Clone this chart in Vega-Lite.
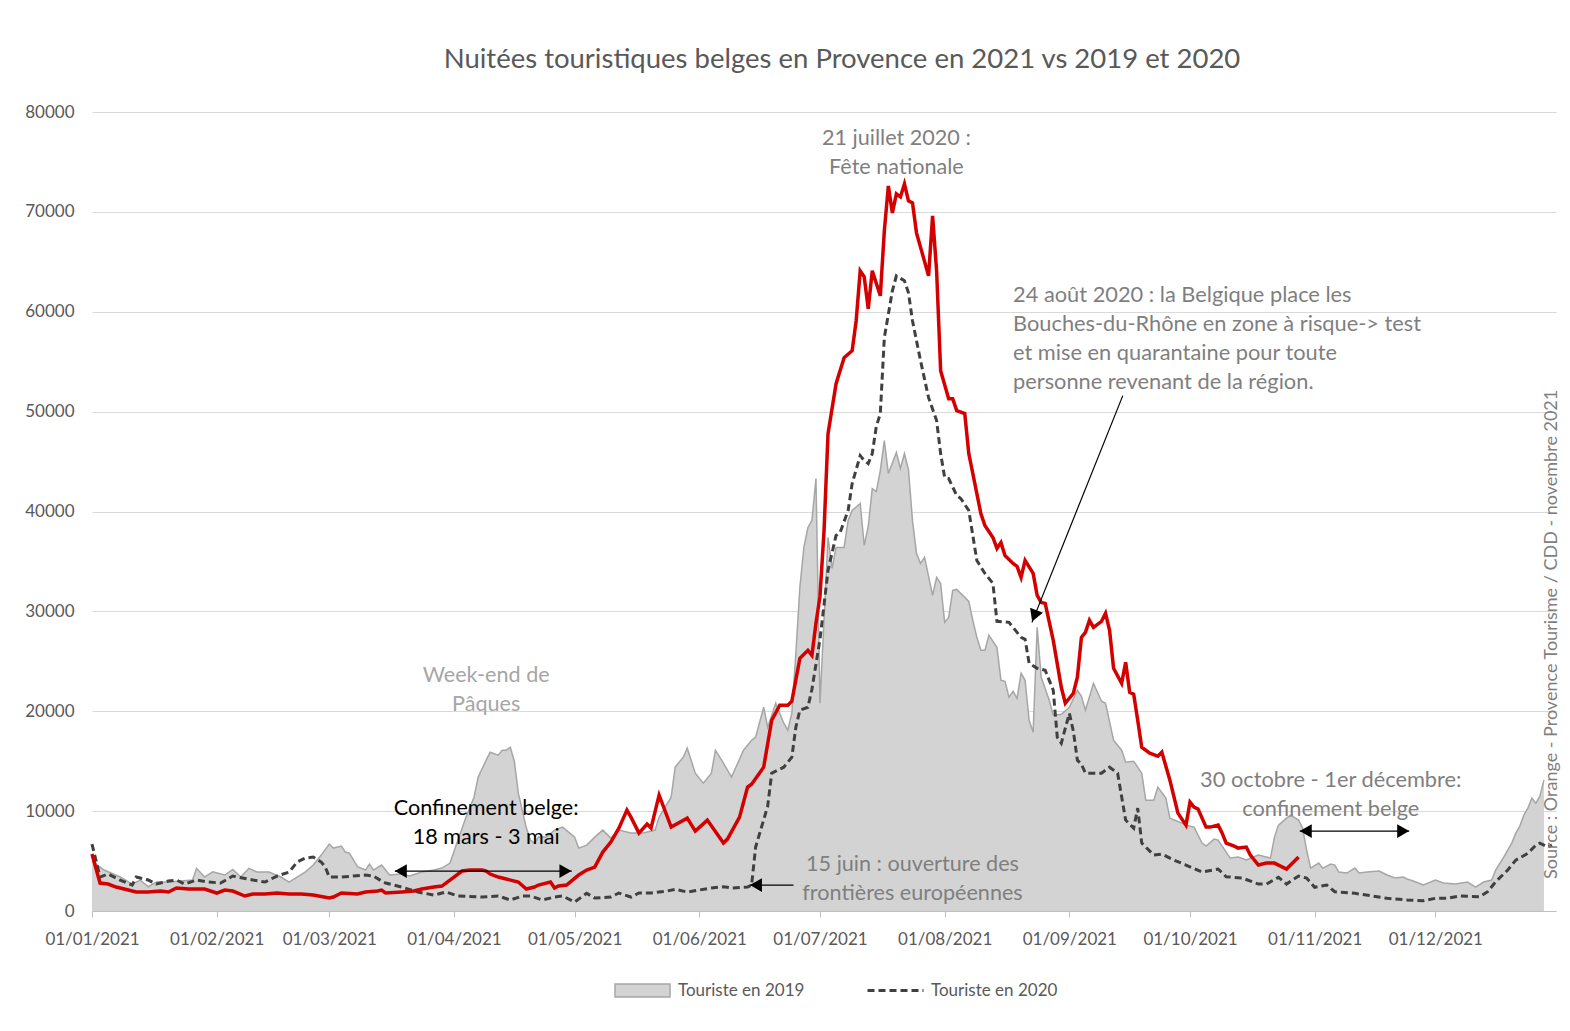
{
  "$schema": "https://vega.github.io/schema/vega-lite/v6.json",
  "width": 1464,
  "height": 799,
  "autosize": {"type": "none"},
  "padding": {"left": 92, "top": 112, "right": 14, "bottom": 120},
  "background": "white",
  "config": {"font": "Lato", "view": {"stroke": null}},
  "title": {"text": "Nuitées touristiques belges en Provence en 2021 vs 2019 et 2020", "font": "Lato", "fontSize": 27.5, "fontWeight": "normal", "color": "#595959", "anchor": "middle", "frame": "group", "dx": 18, "offset": 30},
  "datasets": {
    "t2019": [
      {"date": "2021-01-01", "v": 5000}, {"date": "2021-01-04", "v": 4100}, {"date": "2021-01-08", "v": 3400}, {"date": "2021-01-11", "v": 2700}, {"date": "2021-01-13", "v": 3100}, {"date": "2021-01-15", "v": 2430}, {"date": "2021-01-17", "v": 2900}, {"date": "2021-01-20", "v": 2900}, {"date": "2021-01-23", "v": 3000}, {"date": "2021-01-26", "v": 3100}, {"date": "2021-01-27", "v": 4270}, {"date": "2021-01-29", "v": 3400}, {"date": "2021-01-31", "v": 3930},
      {"date": "2021-02-03", "v": 3600}, {"date": "2021-02-05", "v": 4170}, {"date": "2021-02-07", "v": 3400}, {"date": "2021-02-09", "v": 4270}, {"date": "2021-02-11", "v": 3900}, {"date": "2021-02-14", "v": 3900}, {"date": "2021-02-17", "v": 3400}, {"date": "2021-02-19", "v": 2900}, {"date": "2021-02-21", "v": 3400}, {"date": "2021-02-23", "v": 3900}, {"date": "2021-02-25", "v": 4600}, {"date": "2021-02-27", "v": 5600},
      {"date": "2021-03-01", "v": 6700}, {"date": "2021-03-02", "v": 6300}, {"date": "2021-03-04", "v": 6500}, {"date": "2021-03-05", "v": 5900}, {"date": "2021-03-06", "v": 5800}, {"date": "2021-03-08", "v": 4430}, {"date": "2021-03-10", "v": 4100}, {"date": "2021-03-11", "v": 4700}, {"date": "2021-03-12", "v": 4100}, {"date": "2021-03-14", "v": 4600}, {"date": "2021-03-16", "v": 3600}, {"date": "2021-03-19", "v": 3700}, {"date": "2021-03-21", "v": 3500}, {"date": "2021-03-24", "v": 3900}, {"date": "2021-03-27", "v": 4100}, {"date": "2021-03-29", "v": 4300}, {"date": "2021-03-31", "v": 4800},
      {"date": "2021-04-02", "v": 7100}, {"date": "2021-04-04", "v": 9400}, {"date": "2021-04-06", "v": 11400}, {"date": "2021-04-07", "v": 13400}, {"date": "2021-04-09", "v": 15100}, {"date": "2021-04-10", "v": 15900}, {"date": "2021-04-12", "v": 15600}, {"date": "2021-04-13", "v": 16100}, {"date": "2021-04-14", "v": 16100}, {"date": "2021-04-15", "v": 16400}, {"date": "2021-04-16", "v": 15000}, {"date": "2021-04-17", "v": 11800}, {"date": "2021-04-19", "v": 8300}, {"date": "2021-04-20", "v": 7100}, {"date": "2021-04-21", "v": 6800}, {"date": "2021-04-22", "v": 7400}, {"date": "2021-04-24", "v": 7400}, {"date": "2021-04-26", "v": 8100}, {"date": "2021-04-28", "v": 8400},
      {"date": "2021-05-01", "v": 7400}, {"date": "2021-05-02", "v": 6300}, {"date": "2021-05-04", "v": 6600}, {"date": "2021-05-06", "v": 7400}, {"date": "2021-05-08", "v": 8100}, {"date": "2021-05-10", "v": 7300}, {"date": "2021-05-12", "v": 8100}, {"date": "2021-05-15", "v": 7800}, {"date": "2021-05-18", "v": 7800}, {"date": "2021-05-21", "v": 8100}, {"date": "2021-05-22", "v": 9400}, {"date": "2021-05-25", "v": 11400}, {"date": "2021-05-26", "v": 14400}, {"date": "2021-05-28", "v": 15400}, {"date": "2021-05-29", "v": 16300}, {"date": "2021-05-31", "v": 13800},
      {"date": "2021-06-02", "v": 12800}, {"date": "2021-06-04", "v": 13800}, {"date": "2021-06-05", "v": 16100}, {"date": "2021-06-07", "v": 14800}, {"date": "2021-06-09", "v": 13400}, {"date": "2021-06-12", "v": 16100}, {"date": "2021-06-14", "v": 17100}, {"date": "2021-06-15", "v": 17400}, {"date": "2021-06-17", "v": 20400}, {"date": "2021-06-18", "v": 18400}, {"date": "2021-06-20", "v": 20800}, {"date": "2021-06-22", "v": 18800}, {"date": "2021-06-23", "v": 18100}, {"date": "2021-06-24", "v": 19800}, {"date": "2021-06-25", "v": 25800}, {"date": "2021-06-26", "v": 32400}, {"date": "2021-06-27", "v": 36400}, {"date": "2021-06-28", "v": 38400}, {"date": "2021-06-29", "v": 39100}, {"date": "2021-06-30", "v": 43300},
      {"date": "2021-07-01", "v": 20800}, {"date": "2021-07-03", "v": 37400}, {"date": "2021-07-04", "v": 34300}, {"date": "2021-07-05", "v": 36400}, {"date": "2021-07-07", "v": 36400}, {"date": "2021-07-08", "v": 39100}, {"date": "2021-07-09", "v": 40100}, {"date": "2021-07-11", "v": 40800}, {"date": "2021-07-12", "v": 36600}, {"date": "2021-07-13", "v": 38500}, {"date": "2021-07-14", "v": 42300}, {"date": "2021-07-15", "v": 42000}, {"date": "2021-07-16", "v": 44100}, {"date": "2021-07-17", "v": 47100}, {"date": "2021-07-18", "v": 43800}, {"date": "2021-07-20", "v": 45900}, {"date": "2021-07-21", "v": 44300}, {"date": "2021-07-22", "v": 45800}, {"date": "2021-07-23", "v": 44200}, {"date": "2021-07-24", "v": 39100}, {"date": "2021-07-25", "v": 35800}, {"date": "2021-07-26", "v": 34800}, {"date": "2021-07-27", "v": 35400}, {"date": "2021-07-29", "v": 31600}, {"date": "2021-07-30", "v": 33400}, {"date": "2021-07-31", "v": 32800},
      {"date": "2021-08-01", "v": 28900}, {"date": "2021-08-02", "v": 29400}, {"date": "2021-08-03", "v": 32100}, {"date": "2021-08-04", "v": 32200}, {"date": "2021-08-07", "v": 31000}, {"date": "2021-08-08", "v": 29100}, {"date": "2021-08-09", "v": 27400}, {"date": "2021-08-10", "v": 26100}, {"date": "2021-08-11", "v": 26100}, {"date": "2021-08-12", "v": 27600}, {"date": "2021-08-14", "v": 26400}, {"date": "2021-08-15", "v": 23100}, {"date": "2021-08-16", "v": 23000}, {"date": "2021-08-17", "v": 21400}, {"date": "2021-08-18", "v": 22000}, {"date": "2021-08-19", "v": 21300}, {"date": "2021-08-20", "v": 23800}, {"date": "2021-08-21", "v": 23100}, {"date": "2021-08-22", "v": 19100}, {"date": "2021-08-23", "v": 17900}, {"date": "2021-08-24", "v": 28400}, {"date": "2021-08-25", "v": 23400}, {"date": "2021-08-27", "v": 21100}, {"date": "2021-08-28", "v": 19600}, {"date": "2021-08-30", "v": 19700},
      {"date": "2021-09-01", "v": 20400}, {"date": "2021-09-03", "v": 22100}, {"date": "2021-09-04", "v": 21500}, {"date": "2021-09-05", "v": 20100}, {"date": "2021-09-07", "v": 22800}, {"date": "2021-09-09", "v": 21000}, {"date": "2021-09-10", "v": 20800}, {"date": "2021-09-12", "v": 17100}, {"date": "2021-09-14", "v": 16100}, {"date": "2021-09-15", "v": 14900}, {"date": "2021-09-17", "v": 15000}, {"date": "2021-09-19", "v": 13800}, {"date": "2021-09-20", "v": 11100}, {"date": "2021-09-22", "v": 11100}, {"date": "2021-09-23", "v": 12400}, {"date": "2021-09-25", "v": 11300}, {"date": "2021-09-26", "v": 9300}, {"date": "2021-09-29", "v": 8800}, {"date": "2021-09-30", "v": 8600},
      {"date": "2021-10-02", "v": 8400}, {"date": "2021-10-04", "v": 6800}, {"date": "2021-10-05", "v": 6500}, {"date": "2021-10-07", "v": 7200}, {"date": "2021-10-08", "v": 7100}, {"date": "2021-10-11", "v": 5300}, {"date": "2021-10-13", "v": 5400}, {"date": "2021-10-15", "v": 5100}, {"date": "2021-10-18", "v": 5600}, {"date": "2021-10-21", "v": 5300}, {"date": "2021-10-22", "v": 7400}, {"date": "2021-10-23", "v": 8600}, {"date": "2021-10-25", "v": 9300}, {"date": "2021-10-26", "v": 9600}, {"date": "2021-10-28", "v": 9100}, {"date": "2021-10-29", "v": 8300}, {"date": "2021-10-30", "v": 6100}, {"date": "2021-10-31", "v": 4300},
      {"date": "2021-11-02", "v": 4800}, {"date": "2021-11-03", "v": 4300}, {"date": "2021-11-05", "v": 4700}, {"date": "2021-11-06", "v": 4600}, {"date": "2021-11-07", "v": 3900}, {"date": "2021-11-09", "v": 3800}, {"date": "2021-11-11", "v": 4300}, {"date": "2021-11-12", "v": 3800}, {"date": "2021-11-14", "v": 3900}, {"date": "2021-11-17", "v": 4000}, {"date": "2021-11-19", "v": 3600}, {"date": "2021-11-21", "v": 3300}, {"date": "2021-11-23", "v": 3400}, {"date": "2021-11-24", "v": 3200}, {"date": "2021-11-26", "v": 2930}, {"date": "2021-11-28", "v": 2600},
      {"date": "2021-12-01", "v": 3100}, {"date": "2021-12-03", "v": 2800}, {"date": "2021-12-06", "v": 2700}, {"date": "2021-12-09", "v": 2900}, {"date": "2021-12-11", "v": 2400}, {"date": "2021-12-13", "v": 2900}, {"date": "2021-12-15", "v": 3100}, {"date": "2021-12-16", "v": 4100}, {"date": "2021-12-18", "v": 5400}, {"date": "2021-12-20", "v": 6800}, {"date": "2021-12-21", "v": 7800}, {"date": "2021-12-22", "v": 8500}, {"date": "2021-12-23", "v": 9600}, {"date": "2021-12-24", "v": 10300}, {"date": "2021-12-25", "v": 11300}, {"date": "2021-12-26", "v": 10800}, {"date": "2021-12-27", "v": 11500}, {"date": "2021-12-28", "v": 13100}
    ],
    "t2020": [
      {"date": "2021-01-01", "v": 6700}, {"date": "2021-01-03", "v": 3400}, {"date": "2021-01-05", "v": 3700}, {"date": "2021-01-08", "v": 3100}, {"date": "2021-01-11", "v": 2600}, {"date": "2021-01-12", "v": 3400}, {"date": "2021-01-15", "v": 3100}, {"date": "2021-01-17", "v": 2700}, {"date": "2021-01-20", "v": 3000}, {"date": "2021-01-22", "v": 3100}, {"date": "2021-01-24", "v": 2700}, {"date": "2021-01-27", "v": 3100}, {"date": "2021-01-30", "v": 2900},
      {"date": "2021-02-02", "v": 2800}, {"date": "2021-02-05", "v": 3500}, {"date": "2021-02-10", "v": 3100}, {"date": "2021-02-13", "v": 2900}, {"date": "2021-02-16", "v": 3500}, {"date": "2021-02-19", "v": 3900}, {"date": "2021-02-21", "v": 4900}, {"date": "2021-02-23", "v": 5300}, {"date": "2021-02-25", "v": 5400}, {"date": "2021-02-27", "v": 4900}, {"date": "2021-02-28", "v": 4400},
      {"date": "2021-03-01", "v": 3400}, {"date": "2021-03-04", "v": 3400}, {"date": "2021-03-10", "v": 3600}, {"date": "2021-03-12", "v": 3500}, {"date": "2021-03-14", "v": 3000}, {"date": "2021-03-15", "v": 2800}, {"date": "2021-03-19", "v": 2400}, {"date": "2021-03-23", "v": 1900}, {"date": "2021-03-27", "v": 1600}, {"date": "2021-03-30", "v": 1900},
      {"date": "2021-04-02", "v": 1500}, {"date": "2021-04-08", "v": 1400}, {"date": "2021-04-12", "v": 1500}, {"date": "2021-04-15", "v": 1100}, {"date": "2021-04-18", "v": 1500}, {"date": "2021-04-20", "v": 1500}, {"date": "2021-04-23", "v": 1100}, {"date": "2021-04-26", "v": 1400}, {"date": "2021-04-28", "v": 1500},
      {"date": "2021-05-01", "v": 900}, {"date": "2021-05-04", "v": 1770}, {"date": "2021-05-06", "v": 1300}, {"date": "2021-05-10", "v": 1400}, {"date": "2021-05-12", "v": 1800}, {"date": "2021-05-15", "v": 1400}, {"date": "2021-05-17", "v": 1800}, {"date": "2021-05-20", "v": 1800}, {"date": "2021-05-24", "v": 2000}, {"date": "2021-05-26", "v": 2170}, {"date": "2021-05-29", "v": 1900},
      {"date": "2021-06-01", "v": 2100}, {"date": "2021-06-04", "v": 2300}, {"date": "2021-06-07", "v": 2430}, {"date": "2021-06-09", "v": 2300}, {"date": "2021-06-13", "v": 2400}, {"date": "2021-06-14", "v": 2600}, {"date": "2021-06-15", "v": 6400}, {"date": "2021-06-18", "v": 10500}, {"date": "2021-06-19", "v": 13800}, {"date": "2021-06-22", "v": 14400}, {"date": "2021-06-24", "v": 15400}, {"date": "2021-06-25", "v": 18400}, {"date": "2021-06-26", "v": 20100}, {"date": "2021-06-28", "v": 20400}, {"date": "2021-06-29", "v": 22200},
      {"date": "2021-07-01", "v": 27200}, {"date": "2021-07-03", "v": 34100}, {"date": "2021-07-05", "v": 37600}, {"date": "2021-07-06", "v": 37900}, {"date": "2021-07-08", "v": 40100}, {"date": "2021-07-09", "v": 42800}, {"date": "2021-07-11", "v": 45600}, {"date": "2021-07-12", "v": 45100}, {"date": "2021-07-13", "v": 44800}, {"date": "2021-07-14", "v": 45800}, {"date": "2021-07-15", "v": 48500}, {"date": "2021-07-16", "v": 49800}, {"date": "2021-07-17", "v": 57400}, {"date": "2021-07-19", "v": 62100}, {"date": "2021-07-20", "v": 63600}, {"date": "2021-07-22", "v": 63100}, {"date": "2021-07-23", "v": 61900}, {"date": "2021-07-24", "v": 59100}, {"date": "2021-07-26", "v": 55100}, {"date": "2021-07-28", "v": 51400}, {"date": "2021-07-30", "v": 49100}, {"date": "2021-07-31", "v": 45800},
      {"date": "2021-08-01", "v": 43400}, {"date": "2021-08-02", "v": 43300}, {"date": "2021-08-04", "v": 41600}, {"date": "2021-08-05", "v": 41300}, {"date": "2021-08-07", "v": 40100}, {"date": "2021-08-09", "v": 35100}, {"date": "2021-08-11", "v": 33800}, {"date": "2021-08-13", "v": 32800}, {"date": "2021-08-14", "v": 29000}, {"date": "2021-08-17", "v": 28900}, {"date": "2021-08-20", "v": 27400}, {"date": "2021-08-21", "v": 27200}, {"date": "2021-08-22", "v": 24800}, {"date": "2021-08-24", "v": 24300}, {"date": "2021-08-26", "v": 24100}, {"date": "2021-08-28", "v": 22100}, {"date": "2021-08-29", "v": 17400}, {"date": "2021-08-30", "v": 16800},
      {"date": "2021-09-01", "v": 19800}, {"date": "2021-09-02", "v": 18000}, {"date": "2021-09-03", "v": 15100}, {"date": "2021-09-04", "v": 14700}, {"date": "2021-09-05", "v": 13800}, {"date": "2021-09-09", "v": 13800}, {"date": "2021-09-11", "v": 14400}, {"date": "2021-09-13", "v": 13800}, {"date": "2021-09-15", "v": 9100}, {"date": "2021-09-17", "v": 8300}, {"date": "2021-09-18", "v": 10300}, {"date": "2021-09-19", "v": 6800}, {"date": "2021-09-22", "v": 5600}, {"date": "2021-09-24", "v": 5700}, {"date": "2021-09-27", "v": 5100}, {"date": "2021-09-30", "v": 4600},
      {"date": "2021-10-04", "v": 3900}, {"date": "2021-10-08", "v": 4200}, {"date": "2021-10-10", "v": 3430}, {"date": "2021-10-14", "v": 3300}, {"date": "2021-10-18", "v": 2700}, {"date": "2021-10-20", "v": 2700}, {"date": "2021-10-23", "v": 3370}, {"date": "2021-10-25", "v": 2700}, {"date": "2021-10-28", "v": 3500}, {"date": "2021-10-30", "v": 3300},
      {"date": "2021-11-01", "v": 2370}, {"date": "2021-11-04", "v": 2600}, {"date": "2021-11-06", "v": 1930}, {"date": "2021-11-11", "v": 1770}, {"date": "2021-11-15", "v": 1530}, {"date": "2021-11-19", "v": 1270}, {"date": "2021-11-24", "v": 1100}, {"date": "2021-11-28", "v": 1030},
      {"date": "2021-12-01", "v": 1270}, {"date": "2021-12-04", "v": 1270}, {"date": "2021-12-07", "v": 1500}, {"date": "2021-12-12", "v": 1430}, {"date": "2021-12-14", "v": 1930}, {"date": "2021-12-16", "v": 2930}, {"date": "2021-12-19", "v": 4100}, {"date": "2021-12-21", "v": 5100}, {"date": "2021-12-24", "v": 5770}, {"date": "2021-12-26", "v": 6600}, {"date": "2021-12-27", "v": 6800}, {"date": "2021-12-29", "v": 6400}, {"date": "2021-12-30", "v": 6600}
    ],
    "t2021": [
      {"date": "2021-01-01", "v": 5700}, {"date": "2021-01-03", "v": 2800}, {"date": "2021-01-05", "v": 2700}, {"date": "2021-01-07", "v": 2400}, {"date": "2021-01-09", "v": 2200}, {"date": "2021-01-12", "v": 1900}, {"date": "2021-01-15", "v": 1900}, {"date": "2021-01-18", "v": 2000}, {"date": "2021-01-20", "v": 1900}, {"date": "2021-01-22", "v": 2300}, {"date": "2021-01-25", "v": 2200}, {"date": "2021-01-29", "v": 2200},
      {"date": "2021-02-01", "v": 1800}, {"date": "2021-02-03", "v": 2100}, {"date": "2021-02-05", "v": 2000}, {"date": "2021-02-08", "v": 1500}, {"date": "2021-02-10", "v": 1700}, {"date": "2021-02-13", "v": 1700}, {"date": "2021-02-16", "v": 1800}, {"date": "2021-02-19", "v": 1700}, {"date": "2021-02-22", "v": 1700}, {"date": "2021-02-25", "v": 1600},
      {"date": "2021-03-01", "v": 1300}, {"date": "2021-03-02", "v": 1400}, {"date": "2021-03-04", "v": 1800}, {"date": "2021-03-08", "v": 1700}, {"date": "2021-03-10", "v": 1900}, {"date": "2021-03-13", "v": 2000}, {"date": "2021-03-14", "v": 2100}, {"date": "2021-03-15", "v": 1800}, {"date": "2021-03-19", "v": 1900}, {"date": "2021-03-22", "v": 2000}, {"date": "2021-03-24", "v": 2200}, {"date": "2021-03-27", "v": 2400}, {"date": "2021-03-29", "v": 2500},
      {"date": "2021-04-01", "v": 3400}, {"date": "2021-04-03", "v": 4000}, {"date": "2021-04-05", "v": 4100}, {"date": "2021-04-08", "v": 4100}, {"date": "2021-04-09", "v": 4000}, {"date": "2021-04-10", "v": 3700}, {"date": "2021-04-12", "v": 3400}, {"date": "2021-04-14", "v": 3200}, {"date": "2021-04-17", "v": 2900}, {"date": "2021-04-19", "v": 2200}, {"date": "2021-04-21", "v": 2400}, {"date": "2021-04-22", "v": 2600}, {"date": "2021-04-25", "v": 2900}, {"date": "2021-04-26", "v": 2300}, {"date": "2021-04-27", "v": 2500}, {"date": "2021-04-29", "v": 2600},
      {"date": "2021-05-02", "v": 3600}, {"date": "2021-05-04", "v": 4100}, {"date": "2021-05-06", "v": 4400}, {"date": "2021-05-08", "v": 5900}, {"date": "2021-05-10", "v": 6900}, {"date": "2021-05-12", "v": 8300}, {"date": "2021-05-14", "v": 10100}, {"date": "2021-05-15", "v": 9400}, {"date": "2021-05-17", "v": 7800}, {"date": "2021-05-19", "v": 8700}, {"date": "2021-05-20", "v": 8300}, {"date": "2021-05-22", "v": 11600}, {"date": "2021-05-25", "v": 8400}, {"date": "2021-05-29", "v": 9300}, {"date": "2021-05-31", "v": 8000},
      {"date": "2021-06-03", "v": 9100}, {"date": "2021-06-07", "v": 6800}, {"date": "2021-06-08", "v": 7200}, {"date": "2021-06-11", "v": 9400}, {"date": "2021-06-13", "v": 12400}, {"date": "2021-06-14", "v": 12700}, {"date": "2021-06-17", "v": 14400}, {"date": "2021-06-19", "v": 19100}, {"date": "2021-06-21", "v": 20600}, {"date": "2021-06-23", "v": 20600}, {"date": "2021-06-24", "v": 21000}, {"date": "2021-06-26", "v": 25300}, {"date": "2021-06-28", "v": 26100}, {"date": "2021-06-29", "v": 25600}, {"date": "2021-06-30", "v": 28800},
      {"date": "2021-07-01", "v": 31500}, {"date": "2021-07-02", "v": 38000}, {"date": "2021-07-03", "v": 47800}, {"date": "2021-07-05", "v": 52800}, {"date": "2021-07-07", "v": 55400}, {"date": "2021-07-09", "v": 56100}, {"date": "2021-07-10", "v": 59100}, {"date": "2021-07-11", "v": 64100}, {"date": "2021-07-12", "v": 63500}, {"date": "2021-07-13", "v": 60300}, {"date": "2021-07-14", "v": 64100}, {"date": "2021-07-16", "v": 61600}, {"date": "2021-07-17", "v": 68100}, {"date": "2021-07-18", "v": 72600}, {"date": "2021-07-19", "v": 69900}, {"date": "2021-07-20", "v": 71800}, {"date": "2021-07-21", "v": 71500}, {"date": "2021-07-22", "v": 72800}, {"date": "2021-07-23", "v": 71100}, {"date": "2021-07-24", "v": 70900}, {"date": "2021-07-25", "v": 67900}, {"date": "2021-07-28", "v": 63600}, {"date": "2021-07-29", "v": 69600}, {"date": "2021-07-30", "v": 64100}, {"date": "2021-07-31", "v": 54100},
      {"date": "2021-08-02", "v": 51300}, {"date": "2021-08-03", "v": 51300}, {"date": "2021-08-04", "v": 50100}, {"date": "2021-08-06", "v": 49800}, {"date": "2021-08-07", "v": 45800}, {"date": "2021-08-10", "v": 39800}, {"date": "2021-08-11", "v": 38600}, {"date": "2021-08-13", "v": 37400}, {"date": "2021-08-14", "v": 36300}, {"date": "2021-08-15", "v": 36900}, {"date": "2021-08-16", "v": 35600}, {"date": "2021-08-18", "v": 34800}, {"date": "2021-08-19", "v": 34500}, {"date": "2021-08-20", "v": 33400}, {"date": "2021-08-21", "v": 35100}, {"date": "2021-08-23", "v": 33800}, {"date": "2021-08-24", "v": 31600}, {"date": "2021-08-25", "v": 30900}, {"date": "2021-08-26", "v": 30800}, {"date": "2021-08-28", "v": 27100}, {"date": "2021-08-30", "v": 22400}, {"date": "2021-08-31", "v": 20800},
      {"date": "2021-09-02", "v": 21800}, {"date": "2021-09-03", "v": 23400}, {"date": "2021-09-04", "v": 27400}, {"date": "2021-09-05", "v": 27900}, {"date": "2021-09-06", "v": 29100}, {"date": "2021-09-07", "v": 28400}, {"date": "2021-09-09", "v": 29000}, {"date": "2021-09-10", "v": 29800}, {"date": "2021-09-11", "v": 28100}, {"date": "2021-09-12", "v": 24300}, {"date": "2021-09-14", "v": 22800}, {"date": "2021-09-15", "v": 24900}, {"date": "2021-09-16", "v": 21900}, {"date": "2021-09-17", "v": 21700}, {"date": "2021-09-18", "v": 19100}, {"date": "2021-09-19", "v": 16400}, {"date": "2021-09-21", "v": 15800}, {"date": "2021-09-23", "v": 15500}, {"date": "2021-09-24", "v": 15900}, {"date": "2021-09-26", "v": 13100}, {"date": "2021-09-28", "v": 9800}, {"date": "2021-09-30", "v": 8600},
      {"date": "2021-10-01", "v": 10900}, {"date": "2021-10-02", "v": 10400}, {"date": "2021-10-03", "v": 10200}, {"date": "2021-10-05", "v": 8400}, {"date": "2021-10-06", "v": 8400}, {"date": "2021-10-08", "v": 8600}, {"date": "2021-10-09", "v": 7800}, {"date": "2021-10-10", "v": 6800}, {"date": "2021-10-12", "v": 6500}, {"date": "2021-10-13", "v": 6300}, {"date": "2021-10-15", "v": 6400}, {"date": "2021-10-16", "v": 5600}, {"date": "2021-10-18", "v": 4600}, {"date": "2021-10-20", "v": 4800}, {"date": "2021-10-22", "v": 4800}, {"date": "2021-10-23", "v": 4600}, {"date": "2021-10-25", "v": 4200}, {"date": "2021-10-26", "v": 4600}, {"date": "2021-10-28", "v": 5400}
    ]
  },
  "layer": [
    {
      "data": {"name": "t2019"},
      "mark": {"type": "area", "interpolate": "linear"},
      "encoding": {
        "x": {"field": "date", "type": "temporal",
          "scale": {"type": "utc", "domain": [{"year": 2021, "month": 1, "date": 1, "utc": true}, {"year": 2021, "month": 12, "date": 31, "utc": true}]},
          "axis": {"title": null, "format": "%d/%m/%Y", "labelFont": "Lato", "labelFontSize": 17, "labelColor": "#595959", "labelFlush": false, "labelPadding": 14, "grid": false, "domainColor": "#bfbfbf", "tickColor": "#bfbfbf", "tickSize": 6,
            "values": [{"year": 2021, "month": 1, "date": 1, "utc": true}, {"year": 2021, "month": 2, "date": 1, "utc": true}, {"year": 2021, "month": 3, "date": 1, "utc": true}, {"year": 2021, "month": 4, "date": 1, "utc": true}, {"year": 2021, "month": 5, "date": 1, "utc": true}, {"year": 2021, "month": 6, "date": 1, "utc": true}, {"year": 2021, "month": 7, "date": 1, "utc": true}, {"year": 2021, "month": 8, "date": 1, "utc": true}, {"year": 2021, "month": 9, "date": 1, "utc": true}, {"year": 2021, "month": 10, "date": 1, "utc": true}, {"year": 2021, "month": 11, "date": 1, "utc": true}, {"year": 2021, "month": 12, "date": 1, "utc": true}]}},
        "y": {"field": "v", "type": "quantitative",
          "scale": {"domain": [0, 80000], "nice": false},
          "axis": {"title": null, "values": [0, 10000, 20000, 30000, 40000, 50000, 60000, 70000, 80000], "format": "d", "labelFont": "Lato", "labelFontSize": 17, "labelColor": "#595959", "labelPadding": 18, "labelFlush": false, "domain": false, "ticks": false, "grid": true, "gridColor": "#d9d9d9", "gridWidth": 1}},
        "fill": {"datum": "Touriste en 2019", "type": "nominal", "scale": {"domain": ["Touriste en 2019"], "range": ["#d3d3d3"]},
          "legend": {"orient": "none", "legendX": 522, "legendY": 850, "title": null, "padding": 0, "symbolType": "M-1,-0.24H1V0.24H-1Z", "symbolSize": 3025, "symbolStrokeColor": "#a6a6a6", "symbolStrokeWidth": 1.5, "symbolFillColor": "#d3d3d3", "labelFont": "Lato", "labelFontSize": 17, "labelColor": "#595959", "labelOffset": 7}}
      }
    },
    {
      "data": {"name": "t2019"},
      "mark": {"type": "line", "stroke": "#a6a6a6", "strokeWidth": 1.5},
      "encoding": {
        "x": {"field": "date", "type": "temporal"},
        "y": {"field": "v", "type": "quantitative"}
      }
    },
    {
      "data": {"name": "t2020"},
      "mark": {"type": "line", "stroke": "#404040", "strokeWidth": 3},
      "encoding": {
        "x": {"field": "date", "type": "temporal"},
        "y": {"field": "v", "type": "quantitative"},
        "strokeDash": {"datum": "Touriste en 2020", "type": "nominal", "scale": {"domain": ["Touriste en 2020"], "range": [[7, 4]]},
          "legend": {"orient": "none", "legendX": 774, "legendY": 849, "title": null, "padding": 0, "symbolType": "stroke", "symbolSize": 3136, "symbolStrokeColor": "#404040", "symbolStrokeWidth": 3, "labelFont": "Lato", "labelFontSize": 17, "labelColor": "#595959", "labelOffset": 6}}
      }
    },
    {
      "data": {"name": "t2021"},
      "mark": {"type": "line", "stroke": "#d40000", "strokeWidth": 3.5},
      "encoding": {
        "x": {"field": "date", "type": "temporal"},
        "y": {"field": "v", "type": "quantitative"}
      }
    },
    {
      "data": {"values": [{}]},
      "mark": {"type": "rule", "color": "black", "strokeWidth": 1.2},
      "encoding": {
        "x": {"datum": {"year": 2021, "month": 3, "date": 17, "hours": 7, "utc": true}, "type": "temporal"},
        "x2": {"datum": {"year": 2021, "month": 4, "date": 30, "hours": 7, "utc": true}},
        "y": {"datum": 4000, "type": "quantitative"}
      }
    },
    {
      "data": {"values": [{}]},
      "mark": {"type": "point", "shape": "triangle-left", "filled": true, "color": "black", "opacity": 1, "size": 190},
      "encoding": {
        "x": {"datum": {"year": 2021, "month": 3, "date": 18, "hours": 19, "utc": true}, "type": "temporal"},
        "y": {"datum": 4000, "type": "quantitative"}
      }
    },
    {
      "data": {"values": [{}]},
      "mark": {"type": "point", "shape": "triangle-right", "filled": true, "color": "black", "opacity": 1, "size": 190},
      "encoding": {
        "x": {"datum": {"year": 2021, "month": 4, "date": 28, "hours": 17, "utc": true}, "type": "temporal"},
        "y": {"datum": 4000, "type": "quantitative"}
      }
    },
    {
      "data": {"values": [{}]},
      "mark": {"type": "rule", "color": "black", "strokeWidth": 1.2},
      "encoding": {
        "x": {"datum": {"year": 2021, "month": 6, "date": 13, "hours": 14, "utc": true}, "type": "temporal"},
        "x2": {"datum": {"year": 2021, "month": 6, "date": 24, "hours": 10, "utc": true}},
        "y": {"datum": 2600, "type": "quantitative"}
      }
    },
    {
      "data": {"values": [{}]},
      "mark": {"type": "point", "shape": "triangle-left", "filled": true, "color": "black", "opacity": 1, "size": 190},
      "encoding": {
        "x": {"datum": {"year": 2021, "month": 6, "date": 15, "hours": 2, "utc": true}, "type": "temporal"},
        "y": {"datum": 2600, "type": "quantitative"}
      }
    },
    {
      "data": {"values": [{}]},
      "mark": {"type": "rule", "color": "black", "strokeWidth": 1.2},
      "encoding": {
        "x": {"datum": {"year": 2021, "month": 9, "date": 14, "hours": 7, "utc": true}, "type": "temporal"},
        "x2": {"datum": {"year": 2021, "month": 8, "date": 22, "hours": 17, "utc": true}},
        "y": {"datum": 51600, "type": "quantitative"},
        "y2": {"datum": 28900}
      }
    },
    {
      "data": {"values": [{}]},
      "mark": {"type": "point", "shape": "triangle-up", "angle": 201.6, "filled": true, "color": "black", "opacity": 1, "size": 190},
      "encoding": {
        "x": {"datum": {"year": 2021, "month": 8, "date": 23, "hours": 7, "utc": true}, "type": "temporal"},
        "y": {"datum": 29550, "type": "quantitative"}
      }
    },
    {
      "data": {"values": [{}]},
      "mark": {"type": "rule", "color": "black", "strokeWidth": 1.2},
      "encoding": {
        "x": {"datum": {"year": 2021, "month": 10, "date": 28, "hours": 7, "utc": true}, "type": "temporal"},
        "x2": {"datum": {"year": 2021, "month": 11, "date": 24, "hours": 12, "utc": true}},
        "y": {"datum": 8000, "type": "quantitative"}
      }
    },
    {
      "data": {"values": [{}]},
      "mark": {"type": "point", "shape": "triangle-left", "filled": true, "color": "black", "opacity": 1, "size": 190},
      "encoding": {
        "x": {"datum": {"year": 2021, "month": 10, "date": 29, "hours": 19, "utc": true}, "type": "temporal"},
        "y": {"datum": 8000, "type": "quantitative"}
      }
    },
    {
      "data": {"values": [{}]},
      "mark": {"type": "point", "shape": "triangle-right", "filled": true, "color": "black", "opacity": 1, "size": 190},
      "encoding": {
        "x": {"datum": {"year": 2021, "month": 11, "date": 23, "utc": true}, "type": "temporal"},
        "y": {"datum": 8000, "type": "quantitative"}
      }
    },
    {
      "data": {"values": [{}]},
      "mark": {"type": "text", "text": ["21 juillet 2020 :", "Fête nationale"], "align": "center", "baseline": "alphabetic", "lineHeight": 29, "font": "Lato", "fontSize": 21.6, "color": "#7f7f7f"},
      "encoding": {
        "x": {"datum": {"year": 2021, "month": 7, "date": 20, "utc": true}, "type": "temporal"},
        "y": {"datum": 76700, "type": "quantitative"}
      }
    },
    {
      "data": {"values": [{}]},
      "mark": {"type": "text", "text": ["24 août 2020 : la Belgique place les", "Bouches-du-Rhône en zone à risque-> test", "et  mise en quarantaine pour toute", "personne revenant de la région."], "align": "left", "baseline": "alphabetic", "lineHeight": 29, "font": "Lato", "fontSize": 21.8, "color": "#7f7f7f"},
      "encoding": {
        "x": {"datum": {"year": 2021, "month": 8, "date": 18, "utc": true}, "type": "temporal"},
        "y": {"datum": 61000, "type": "quantitative"}
      }
    },
    {
      "data": {"values": [{}]},
      "mark": {"type": "text", "text": ["Week-end de", "Pâques"], "align": "center", "baseline": "alphabetic", "lineHeight": 29, "font": "Lato", "fontSize": 21.6, "color": "#a6a6a6"},
      "encoding": {
        "x": {"datum": {"year": 2021, "month": 4, "date": 9, "utc": true}, "type": "temporal"},
        "y": {"datum": 22900, "type": "quantitative"}
      }
    },
    {
      "data": {"values": [{}]},
      "mark": {"type": "text", "text": ["Confinement belge:", "18 mars - 3 mai"], "align": "center", "baseline": "alphabetic", "lineHeight": 29, "font": "Lato", "fontSize": 21.6, "color": "#000000"},
      "encoding": {
        "x": {"datum": {"year": 2021, "month": 4, "date": 9, "utc": true}, "type": "temporal"},
        "y": {"datum": 9600, "type": "quantitative"}
      }
    },
    {
      "data": {"values": [{}]},
      "mark": {"type": "text", "text": ["15 juin : ouverture des", "frontières européennes"], "align": "center", "baseline": "alphabetic", "lineHeight": 29, "font": "Lato", "fontSize": 21.6, "color": "#7f7f7f"},
      "encoding": {
        "x": {"datum": {"year": 2021, "month": 7, "date": 24, "utc": true}, "type": "temporal"},
        "y": {"datum": 4000, "type": "quantitative"}
      }
    },
    {
      "data": {"values": [{}]},
      "mark": {"type": "text", "text": ["30 octobre - 1er décembre:", "confinement belge"], "align": "center", "baseline": "alphabetic", "lineHeight": 29, "font": "Lato", "fontSize": 21.8, "color": "#7f7f7f"},
      "encoding": {
        "x": {"datum": {"year": 2021, "month": 11, "date": 5, "utc": true}, "type": "temporal"},
        "y": {"datum": 12400, "type": "quantitative"}
      }
    },
    {
      "data": {"values": [{}]},
      "mark": {"type": "text", "text": "Source : Orange - Provence Tourisme  / CDD - novembre 2021", "angle": 270, "align": "center", "baseline": "middle", "font": "Lato", "fontSize": 18, "color": "#7f7f7f"},
      "encoding": {
        "x": {"datum": {"year": 2021, "month": 12, "date": 30, "utc": true}, "type": "temporal"},
        "y": {"datum": 27700, "type": "quantitative"}
      }
    }
  ]
}
